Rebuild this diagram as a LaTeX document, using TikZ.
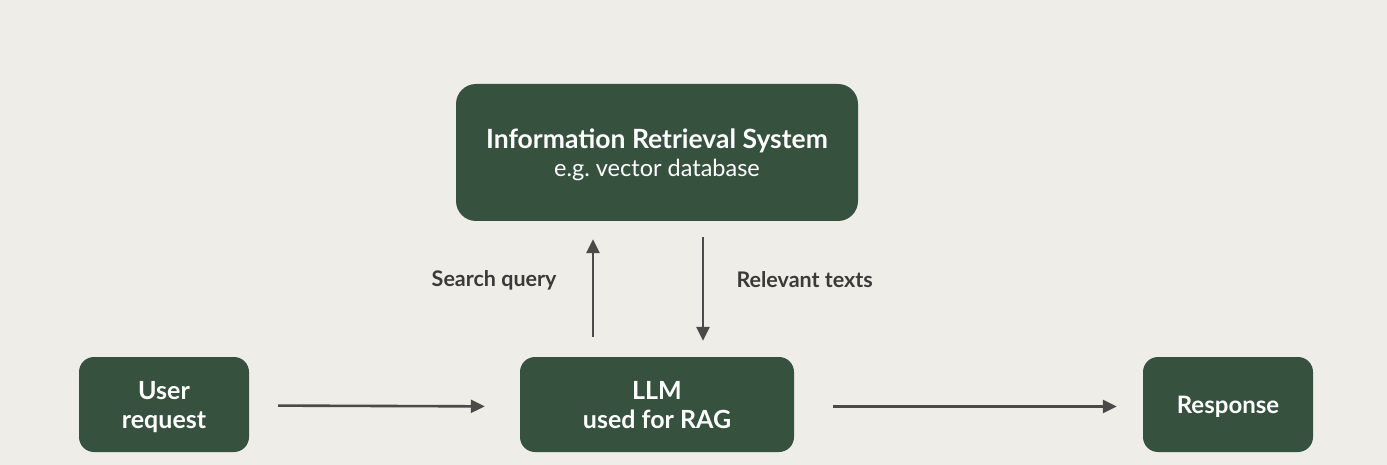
\documentclass[tikz,border=0pt]{standalone}
\usepackage{fontspec}
\setmainfont{Lato}
\usetikzlibrary{arrows.meta}
\definecolor{bgcream}{HTML}{EFEDE7}
\definecolor{boxgreen}{HTML}{37513F}
\definecolor{arrowgray}{HTML}{4A4A48}
\definecolor{labelgray}{HTML}{3A3A38}
\tikzset{
  box/.style={fill=boxgreen, rounded corners=15pt, text=white!95!bgcream, align=center,
    font=\fontsize{25}{29}\selectfont\bfseries, inner sep=0pt, text depth=0pt},
  flow/.style={-{Stealth[length=14pt,width=13pt,inset=0pt]}, line width=2.6pt, draw=arrowgray},
  lbl/.style={text=labelgray, font=\fontsize{21.5}{24}\selectfont\bfseries}
}
\begin{document}
\begin{tikzpicture}[x=1pt,y=-1pt]
    \fill[bgcream] (0,0) rectangle (1387,465);
    \useasboundingbox (0,0) rectangle (1387,465);
    % boxes
    \node[box, rounded corners=20pt, minimum width=402pt, minimum height=137pt,
        font=\fontsize{26.5}{28}\selectfont\bfseries] (irs) at (657,152.5)
        {Information Retrieval System\\{\fontsize{23.5}{28}\selectfont\mdseries e.g.\ vector database}};
    \node[box, minimum width=170pt, minimum height=95pt] (user) at (164,404.5) {User\\request};
    \node[box, minimum width=274pt, minimum height=95pt] (llm) at (657,404.5) {LLM\\used for RAG};
    \node[box, minimum width=170pt, minimum height=95pt, font=\fontsize{24}{29}\selectfont\bfseries] (resp) at (1228,404.5) {Response};
    % arrows
    \draw[flow, shorten <=29pt, shorten >=35pt] ([yshift=-1pt]user.east) -- ([yshift=-2pt]llm.west);
    \draw[flow, shorten <=39pt, shorten >=26pt] ([yshift=-2pt]llm.east) -- ([yshift=-2pt]resp.west);
    \draw[flow, shorten <=20pt, shorten >=18pt] ([xshift=-64pt]llm.north) -- ([xshift=-64pt]irs.south);
    \draw[flow, shorten <=16pt, shorten >=16pt] ([xshift=46pt]irs.south) -- ([xshift=46pt]llm.north);
    \node[lbl, anchor=east] (query) at (560,280) {Search query};
    \node[lbl, anchor=west] (texts) at (733,280) {Relevant texts};
\end{tikzpicture}
\end{document}
